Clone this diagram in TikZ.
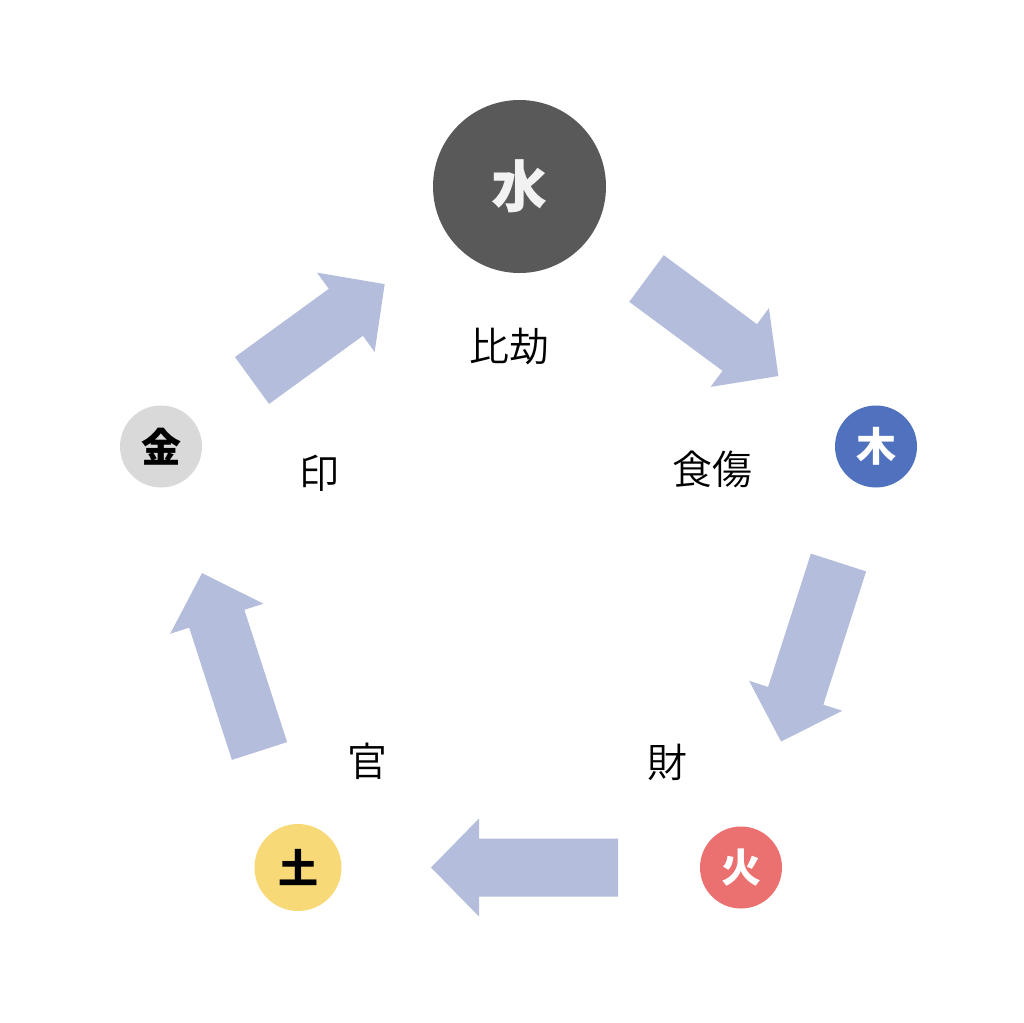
\documentclass[tikz,border=0pt]{standalone}
\usepackage{fontspec}
\usepackage{xcolor}
\usepackage{tikz}
\usetikzlibrary{positioning,calc}
\newfontfamily\jpfont{Noto Sans CJK JP}
\IfFontExistsTF{Noto Sans CJK JP DemiLight}
    {\newfontfamily\jplight{Noto Sans CJK JP DemiLight}}
    {\newfontfamily\jplight{Noto Sans CJK JP}}

\definecolor{waterc}{HTML}{595959}
\definecolor{woodc}{HTML}{4F71BE}
\definecolor{firec}{HTML}{EB7070}
\definecolor{earthc}{HTML}{F8D978}
\definecolor{metalc}{HTML}{D9D9D9}
\definecolor{flowc}{HTML}{B4BEDC}

\tikzset{
    element/.style={circle, inner sep=0pt, font=\jpfont\bfseries\fontsize{40}{40}\selectfont},
    relation/.style={inner sep=0pt, font=\jplight\fontsize{40}{42}\selectfont},
    flowarrow/.style={fill=flowc}
}

% block arrow: tail point, angle, length
\newcommand{\flowshape}[3]{%
    \fill[flowarrow, shift={#1}, rotate=#2]
        (0,-29) -- ({#3-48},-29) -- ({#3-48},-49) -- (#3,0)
        -- ({#3-48},49) -- ({#3-48},29) -- (0,29) -- cycle;
}

\begin{document}
\begin{tikzpicture}[x=1pt, y=-1pt]
        \useasboundingbox (0,0) rectangle (1024,1022);

        % Elements
        \node[element, fill=waterc, text=white!95!black, minimum size=173pt,
              font=\jpfont\bfseries\fontsize{56}{56}\selectfont] (water) at (519.5,186.5) {水};
        \node[element, fill=woodc, text=white, minimum size=82pt] (wood) at (876,446.5) {木};
        \node[element, fill=firec, text=white, minimum size=82pt] (fire) at (741,867.5) {火};
        \node[element, fill=earthc, text=black, minimum size=87pt] (earth) at (298,867.5) {土};
        \node[element, fill=metalc, text=black, minimum size=82pt] (metal) at (161,446.5) {金};

        % Relations
        \node[relation] (hikou) at (509,346.5) {比劫};
        \node[relation] (shokushou) at (712,469) {食傷};
        \node[relation] (zai) at (667,762) {財};
        \node[relation] (kan) at (367,761.5) {官};
        \node[relation] (in) at (319,473) {印};

        % Flow
        \flowshape{(252,380.5)}{36}{164}
        \flowshape{(646.5,278.5)}{-36.5}{164}
        \flowshape{(838.5,562.5)}{-107.8}{188}
        \flowshape{(618,867.5)}{180}{187}
        \flowshape{(259.5,751)}{107.9}{187}
    \end{tikzpicture}
\end{document}
